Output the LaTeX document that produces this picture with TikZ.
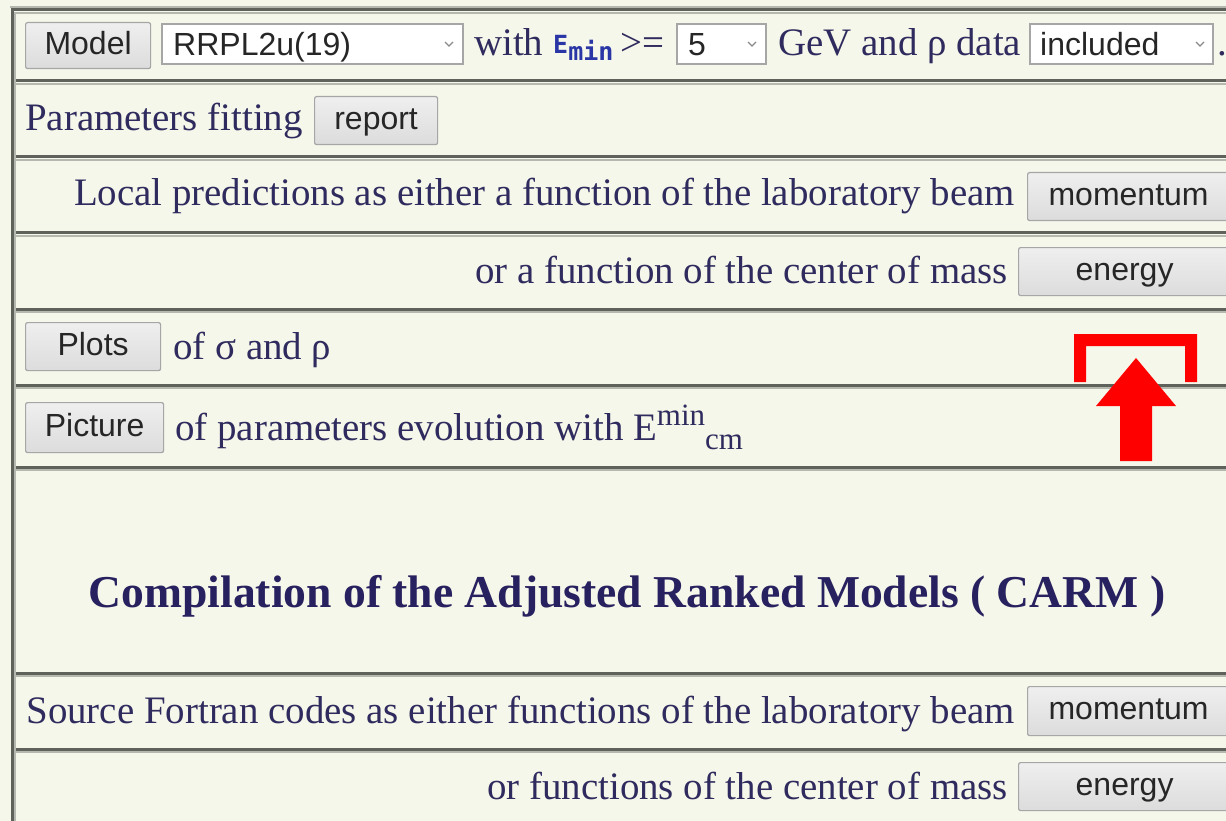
\documentclass[tikz,border=0pt]{standalone}
\usepackage{fontspec}
\setmainfont{Liberation Serif}
\setsansfont{Liberation Sans}
\newfontfamily\monob{DejaVu Sans Mono}
\definecolor{bg}{HTML}{F5F7EA}
\definecolor{navy}{HTML}{2F2B5E}
\definecolor{ttl}{HTML}{28215F}
\definecolor{bdark}{HTML}{5E625B}
\definecolor{blight}{HTML}{B4B8AE}
\definecolor{btnedge}{HTML}{A6A6A6}
\definecolor{btntop}{HTML}{EFEFEF}
\definecolor{btnbot}{HTML}{DCDCDC}
\definecolor{emblue}{HTML}{2B36A6}
\definecolor{chev}{HTML}{8A8A8A}
\definecolor{redmark}{HTML}{FF0000}
\tikzset{
  txt/.style={font=\fontsize{38.9}{40}\selectfont, text=navy, inner sep=0pt, anchor=base west},
  txtr/.style={txt, anchor=base east},
  btn/.style={draw=btnedge, line width=1.2pt, top color=btntop, bottom color=btnbot,
    rounded corners=2pt, font=\sffamily\fontsize{32}{34}\selectfont, text=black!85,
    inner sep=0pt, text height=24pt, text depth=7pt, anchor=north west},
  selbox/.style={draw=btnedge, line width=1.2pt, fill=white},
  seltxt/.style={font=\sffamily\fontsize{32}{34}\selectfont, text=black!85, inner sep=0pt, anchor=base west},
  chevron/.style={chev, line width=1.1pt},
  sepdark/.style={bdark, line width=3pt},
  seplight/.style={blight, line width=2pt},
}
\begin{document}
\begin{tikzpicture}[x=1pt,y=-1pt]
\useasboundingbox (0,0) rectangle (1226,821);
\fill[bg] (0,0) rectangle (1226,821);
% table borders
\draw[seplight] (10,7) -- (1226,7);
\foreach \yy in {10,81,157,233,309,385,467,673,749} {
  \draw[sepdark] (12,\yy) -- (1226,\yy);
  \draw[seplight] (13,\yy+2.8) -- (1226,\yy+2.8);
}
\draw[sepdark] (12,8) -- (12,821);
\draw[seplight] (15,12) -- (15,821);

% Row 1
\node[btn, minimum width=125, minimum height=46] (model) at (25,22) {Model};
\draw[selbox] (162,24) rectangle (463,64);
\node[seltxt] (rrpl) at (173,56) {RRPL2u(19)};
\draw[chevron] (445,42) -- (449,46) -- (453,42);
\node[txt] (with) at (474,56) {with};
\node[inner sep=0pt, anchor=base west, text=emblue, font=\monob\bfseries\fontsize{25}{26}\selectfont] (emin) at (553,54) {E\raisebox{-7pt}{min}};
\node[txt] (geq) at (620,56) {>=};
\draw[selbox] (677,24) rectangle (766,64);
\node[seltxt] (five) at (688,56) {5};
\draw[chevron] (748,42) -- (752,46) -- (756,42);
\node[txt] (gev) at (778,56) {GeV and ρ data};
\draw[selbox] (1030,24) rectangle (1213,64);
\node[seltxt] (incl) at (1040,56) {included};
\draw[chevron] (1196,42) -- (1200,46) -- (1204,42);
\node[txt] (dot) at (1217,56) {.};

% Row 2
\node[txt] (params) at (25,131) {Parameters fitting};
\node[btn, minimum width=123, minimum height=48] (report) at (314,96) {report};

% Row 3
\node[txtr] (local) at (1015,206) {Local predictions as either a function of the laboratory beam};
\node[btn, minimum width=202, minimum height=48] (mom1) at (1027,172) {momentum};

% Row 4
\node[txtr] (orcm) at (1008,283) {or a function of the center of mass};
\node[btn, minimum width=212, minimum height=48] (en1) at (1018,247) {energy};

% Row 5
\node[btn, minimum width=135, minimum height=48] (plots) at (25,322) {Plots};
\node[txt] (sigrho) at (173,359) {of σ and ρ};

% Row 6
\node[btn, minimum width=138, minimum height=50] (picture) at (25,402) {Picture};
\node[txt] (evol) at (175,440) {of parameters evolution with E\raisebox{15pt}{\fontsize{31}{32}\selectfont min}\raisebox{-9pt}{\fontsize{31}{32}\selectfont cm}};

% Row 7 title
\node[inner sep=0pt, anchor=base, text=ttl, font=\bfseries\fontsize{45.6}{48}\selectfont] (title) at (627,607) {Compilation of the Adjusted Ranked Models ( CARM )};

% Row 8
\node[txtr] (source) at (1015,723) {Source Fortran codes as either functions of the laboratory beam};
\node[btn, minimum width=202, minimum height=49] (mom2) at (1027,686) {momentum};

% Row 9
\node[txtr] (orfn) at (1008,799) {or functions of the center of mass};
\node[btn, minimum width=212, minimum height=48] (en2) at (1018,762) {energy};

% red annotation
\fill[redmark] (1074,334) -- (1197,334) -- (1197,382) -- (1185,382) -- (1185,346)
  -- (1086,346) -- (1086,382) -- (1074,382) -- cycle;
\fill[redmark] (1136,358) -- (1176,406) -- (1152,406) -- (1152,461) -- (1120,461)
  -- (1120,406) -- (1096,406) -- cycle;
\end{tikzpicture}
\end{document}
